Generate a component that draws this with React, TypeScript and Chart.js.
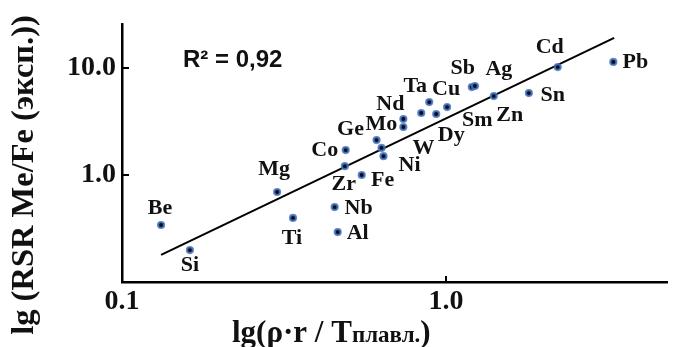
import React, { useEffect, useRef } from 'react';
import { Chart, registerables } from 'chart.js';

Chart.register(...registerables);

// ---- data ----
const elements = ['Be', 'Si', 'Mg', 'Ti', 'Nb', 'Al', 'Zr', 'Co', 'Fe', 'Ge', 'W', 'Ni', 'Mo', 'Nd', 'Dy', 'Ta', 'Sm', 'Cu', 'Sb', 'Ag', 'Zn', 'Sn', 'Cd', 'Pb'];
const xValues = [0.132, 0.162, 0.301, 0.337, 0.453, 0.463, 0.487, 0.490, 0.549, 0.610, 0.632, 0.641, 0.738, 0.738, 0.838, 0.887, 0.932, 1.007, 1.20, 1.227, 1.403, 1.80, 2.21, 3.28];
const yValues = [0.341, 0.199, 0.694, 0.397, 0.502, 0.293, 1.21, 1.71, 1.00, 2.12, 1.79, 1.50, 2.81, 3.34, 3.80, 4.81, 3.72, 4.32, 6.64, 6.79, 5.47, 5.84, 10.2, 11.4];
const trendX = [0.132, 3.30];
const trendY = [0.179, 19.1];
const xTickValues = [0.1, 1.0];
const yTickValues = [1.0, 10.0];
const xRange = [0.1, 4.83];
const yRange = [0.1, 25.8];
const r2Text = 'R² = 0,92';
const yTitle = 'lg (RSR Me/Fe (эксп.))';
const xTitleMain = 'lg(ρ·r / T';
const xTitleSub = 'плавл.';
const xTitleEnd = ')';

// ---- label placement (pixel offsets from each point) ----
const labelOffsets: [number, number][] = [
  [-1, -17], [0, 15], [-3, -23], [-1, 20], [24, 1], [20, 1], [-1, 18], [-21, 0], [21, 5], [-26, -11],
  [42, 0], [26, 9], [-22, -3], [-13, -15], [30, 22], [-14, -16], [41, 6], [-1, -18], [-9, -19], [24, -17],
  [16, 19], [24, 2], [-8, -20], [22, 0],
];

const SERIF = '"Liberation Serif", "Times New Roman", serif';
const SANS = '"Liberation Sans", Arial, sans-serif';

const decorPlugin = {
  id: 'decor',
  afterDatasetsDraw(chart: any) {
    const ctx = chart.ctx;
    const xs = chart.scales.x;
    const ys = chart.scales.y;
    const area = chart.chartArea;
    ctx.save();
    // inner tick marks
    ctx.strokeStyle = '#000';
    ctx.lineWidth = 2;
    xTickValues.forEach((v) => {
      const px = Math.round(xs.getPixelForValue(v));
      if (px > area.left + 3) {
        ctx.beginPath();
        ctx.moveTo(px, area.bottom);
        ctx.lineTo(px, area.bottom - 6);
        ctx.stroke();
      }
    });
    yTickValues.forEach((v) => {
      const py = Math.round(ys.getPixelForValue(v));
      ctx.beginPath();
      ctx.moveTo(area.left, py);
      ctx.lineTo(area.left + 7, py);
      ctx.stroke();
    });
    // element labels
    ctx.fillStyle = '#111';
    ctx.font = `bold 22px ${SERIF}`;
    ctx.textAlign = 'center';
    ctx.textBaseline = 'middle';
    elements.forEach((el, i) => {
      const px = xs.getPixelForValue(xValues[i]);
      const py = ys.getPixelForValue(yValues[i]);
      ctx.fillText(el, px + labelOffsets[i][0], py + labelOffsets[i][1]);
    });
    // R^2
    ctx.font = `bold 24px ${SANS}`;
    ctx.textAlign = 'left';
    ctx.textBaseline = 'alphabetic';
    ctx.fillText(r2Text, 183, 67);
    // y title
    ctx.save();
    ctx.translate(33, 175);
    ctx.rotate(-Math.PI / 2);
    ctx.font = `bold 32.5px ${SERIF}`;
    ctx.textAlign = 'center';
    ctx.fillText(yTitle, 0, 0);
    ctx.restore();
    // x title
    let x = 232;
    const base = 342;
    ctx.textAlign = 'left';
    ctx.font = `bold 31px ${SERIF}`;
    ctx.fillText(xTitleMain, x, base);
    x += ctx.measureText(xTitleMain).width;
    ctx.font = `bold 23px ${SERIF}`;
    ctx.fillText(xTitleSub, x, base);
    x += ctx.measureText(xTitleSub).width;
    ctx.font = `bold 31px ${SERIF}`;
    ctx.fillText(xTitleEnd, x, base);
    ctx.restore();
  },
};

export default function App() {
  const ref = useRef<HTMLCanvasElement | null>(null);
  useEffect(() => {
    if (!ref.current) return;
    const chart = new Chart(ref.current, {
      type: 'scatter',
      data: {
        datasets: [
          {
            type: 'scatter',
            data: xValues.map((x, i) => ({ x, y: yValues[i] })),
            pointRadius: 3,
            pointBackgroundColor: '#0b0b1e',
            pointBorderColor: 'rgba(70,120,195,0.85)',
            pointBorderWidth: 2.2,
          },
          {
            type: 'line',
            data: trendX.map((x, i) => ({ x, y: trendY[i] })),
            borderColor: '#000',
            borderWidth: 2,
            pointRadius: 0,
            fill: false,
          },
        ],
      } as any,
      options: {
        responsive: false,
        animation: false,
        devicePixelRatio: 1,
        layout: { padding: { left: 0, top: 24, right: 2, bottom: 0 } },
        plugins: { legend: { display: false }, tooltip: { enabled: false } },
        scales: {
          x: {
            type: 'logarithmic',
            min: xRange[0],
            max: xRange[1],
            afterBuildTicks: (s: any) => { s.ticks = xTickValues.map((v) => ({ value: v })); },
            afterFit: (s: any) => { s.height = 65; },
            grid: { display: true, drawOnChartArea: false, drawTicks: false },
            border: { display: true, color: '#000', width: 2.5 },
            ticks: {
              padding: 3,
              color: '#111',
              font: { family: SERIF, size: 28, weight: 'bold' },
              callback: (v: any) => Number(v).toFixed(1),
              autoSkip: false,
              maxRotation: 0,
            },
          },
          y: {
            type: 'logarithmic',
            min: yRange[0],
            max: yRange[1],
            afterBuildTicks: (s: any) => { s.ticks = yTickValues.map((v) => ({ value: v })); },
            afterFit: (s: any) => { s.width = 122; },
            grid: { display: true, drawOnChartArea: false, drawTicks: false },
            border: { display: true, color: '#000', width: 2.5 },
            ticks: {
              padding: 6,
              color: '#111',
              font: { family: SERIF, size: 28, weight: 'bold' },
              callback: (v: any) => Number(v).toFixed(1),
              autoSkip: false,
            },
          },
        },
      } as any,
      plugins: [decorPlugin],
    });
    return () => chart.destroy();
  }, []);
  return (
    <div style={{ position: 'absolute', left: 0, top: 0, width: 674, height: 347, background: '#fff' }}>
      <canvas ref={ref} width={674} height={347} style={{ width: 674, height: 347 }} />
    </div>
  );
}
